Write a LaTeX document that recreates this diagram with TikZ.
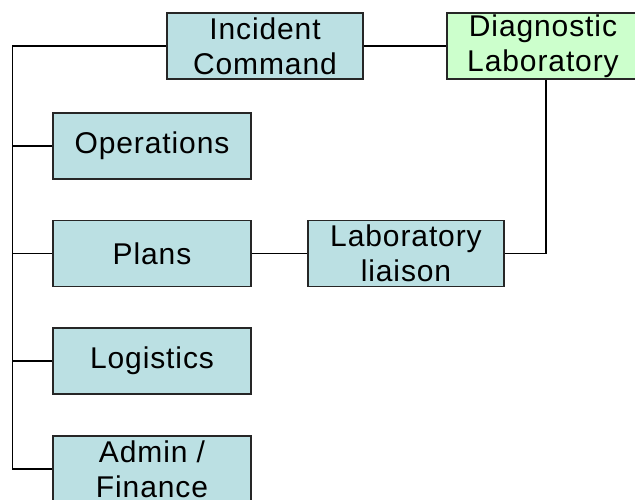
\documentclass[tikz,border=0pt]{standalone}
\usepackage{fontspec}
\setmainfont[LetterSpace=3]{Liberation Sans}
\definecolor{boxblue}{RGB}{187,224,227}
\definecolor{boxgreen}{RGB}{204,255,204}
\begin{document}
\begin{tikzpicture}[x=1pt,y=-1pt,
  box/.style={draw=black!85, line width=1.3pt, fill=boxblue, minimum width=196pt, minimum height=66pt,
    inner sep=0pt, align=center, font=\fontsize{30}{35}\selectfont},
  link/.style={draw=black, line width=1.3pt}]
\useasboundingbox (0,0) rectangle (635,500);
\node[box] (ic) at (265,46) {Incident\\Command};
\node[box, fill=boxgreen, minimum width=192pt] (dl) at (543,46) {Diagnostic\\Laboratory};
\node[box, minimum width=198pt] (ops) at (152,146) {Operations};
\node[box, minimum width=198pt] (plans) at (152,253.5) {Plans};
\node[box] (ll) at (406,253.5) {Laboratory\\liaison};
\node[box, minimum width=198pt] (log) at (152,361) {Logistics};
\node[box, minimum width=198pt] (adm) at (152,469) {Admin /\\Finance};
\coordinate (spt) at (12.7,46);
\coordinate (spb) at (12.7,469);
\draw[link] (ic.west) -- (spt) -- (spb) -- (adm.west);
\draw[link] (ops.west) -- (ops.west -| spt);
\draw[link] (plans.west) -- (plans.west -| spt);
\draw[link] (log.west) -- (log.west -| spt);
\draw[link] (ic.east) -- (dl.west);
\draw[link] (plans.east) -- (ll.west);
\draw[link] ([xshift=3pt]dl.south) |- (ll.east);
\end{tikzpicture}
\end{document}
